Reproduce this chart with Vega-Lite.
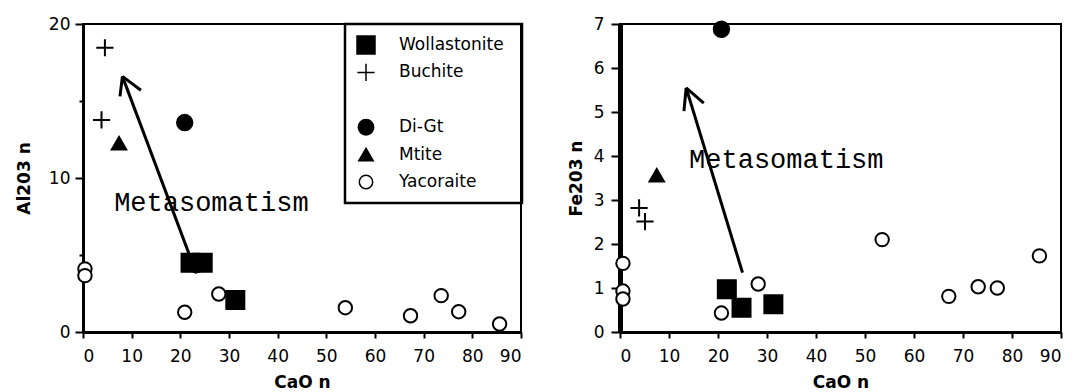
{
  "$schema": "https://vega.github.io/schema/vega-lite/v6.json",
  "background": "white",
  "padding": {"left": 14, "top": 14, "right": 0, "bottom": 0},
  "spacing": 41,
  "config": {
    "view": {"stroke": "black", "strokeWidth": 2},
    "axis": {
      "grid": false,
      "domainColor": "black",
      "tickColor": "black",
      "labelColor": "black",
      "titleColor": "black",
      "labelFont": "DejaVu Sans",
      "labelFontSize": 17,
      "titleFont": "DejaVu Sans",
      "titleFontSize": 17,
      "titleFontWeight": "bold",
      "tickWidth": 2,
      "domainWidth": 3
    },
    "legend": {
      "labelFont": "DejaVu Sans",
      "labelFontSize": 17,
      "labelColor": "black",
      "strokeColor": "black",
      "strokeWidth": 2.5,
      "padding": 11,
      "labelOffset": 23,
      "clipHeight": 20,
      "rowPadding": 7.4
    }
  },
  "resolve": {"legend": {"shape": "independent", "size": "independent", "fill": "independent"}},
  "datasets": {
    "al": [
      {"rock": "Wollastonite", "CaO": 22.1, "v": 4.5},
      {"rock": "Wollastonite", "CaO": 24.6, "v": 4.5},
      {"rock": "Wollastonite", "CaO": 31.3, "v": 2.08},
      {"rock": "Buchite", "CaO": 4.5, "v": 18.46},
      {"rock": "Buchite", "CaO": 3.8, "v": 13.77},
      {"rock": "Di-Gt", "CaO": 20.9, "v": 13.6},
      {"rock": "Mtite", "CaO": 7.4, "v": 12.25},
      {"rock": "Yacoraite", "CaO": 0.4, "v": 4.1},
      {"rock": "Yacoraite", "CaO": 0.4, "v": 3.66},
      {"rock": "Yacoraite", "CaO": 20.9, "v": 1.28},
      {"rock": "Yacoraite", "CaO": 27.9, "v": 2.47},
      {"rock": "Yacoraite", "CaO": 53.9, "v": 1.58},
      {"rock": "Yacoraite", "CaO": 67.3, "v": 1.06},
      {"rock": "Yacoraite", "CaO": 73.6, "v": 2.36},
      {"rock": "Yacoraite", "CaO": 77.2, "v": 1.32},
      {"rock": "Yacoraite", "CaO": 85.6, "v": 0.52}
    ],
    "fe": [
      {"rock": "Wollastonite", "CaO": 21.8, "v": 0.97},
      {"rock": "Wollastonite", "CaO": 24.8, "v": 0.55},
      {"rock": "Wollastonite", "CaO": 31.3, "v": 0.63},
      {"rock": "Buchite", "CaO": 3.9, "v": 2.82},
      {"rock": "Buchite", "CaO": 5.1, "v": 2.51},
      {"rock": "Di-Gt", "CaO": 20.7, "v": 6.88},
      {"rock": "Mtite", "CaO": 7.5, "v": 3.56},
      {"rock": "Yacoraite", "CaO": 0.6, "v": 1.56},
      {"rock": "Yacoraite", "CaO": 0.6, "v": 0.93},
      {"rock": "Yacoraite", "CaO": 0.6, "v": 0.75},
      {"rock": "Yacoraite", "CaO": 20.7, "v": 0.43},
      {"rock": "Yacoraite", "CaO": 28.2, "v": 1.09},
      {"rock": "Yacoraite", "CaO": 53.5, "v": 2.1},
      {"rock": "Yacoraite", "CaO": 67.1, "v": 0.81},
      {"rock": "Yacoraite", "CaO": 73.1, "v": 1.03},
      {"rock": "Yacoraite", "CaO": 77.0, "v": 1.0},
      {"rock": "Yacoraite", "CaO": 85.6, "v": 1.73}
    ],
    "seg": [
      {"panel": "Al", "CaO": 23.3, "v": 3.8, "CaO2": 8.1, "v2": 16.6},
      {"panel": "Al", "CaO": 8.1, "v": 16.6, "CaO2": 11.9, "v2": 15.7},
      {"panel": "Al", "CaO": 8.1, "v": 16.6, "CaO2": 7.6, "v2": 15.3},
      {"panel": "Fe", "CaO": 25.0, "v": 1.35, "CaO2": 13.5, "v2": 5.55},
      {"panel": "Fe", "CaO": 13.5, "v": 5.55, "CaO2": 17.1, "v2": 5.2},
      {"panel": "Fe", "CaO": 13.5, "v": 5.55, "CaO2": 13.05, "v2": 5.02}
    ],
    "notes": [
      {"panel": "Al", "label": "Metasomatism", "CaO": 6.4, "v": 8.4},
      {"panel": "Fe", "label": "Metasomatism", "CaO": 14.1, "v": 3.9}
    ]
  },
  "hconcat": [
    {
      "width": 438,
      "height": 308,
      "layer": [
        {
          "data": {"name": "al"},
          "mark": {"type": "point", "opacity": 1, "stroke": "black", "strokeWidth": 2},
          "encoding": {
            "x": {
              "field": "CaO", "type": "quantitative",
              "scale": {"domain": [0, 90], "nice": false},
              "axis": {
                "title": "CaO n",
                "values": [0, 5, 10, 15, 20, 25, 30, 35, 40, 45, 50, 55, 60, 65, 70, 75, 80, 85, 90],
                "labelExpr": "datum.value % 10 === 0 ? datum.label : ''",
                "tickSize": 6,
                "labelPadding": 10,
                "titlePadding": 10
              }
            },
            "y": {
              "field": "v", "type": "quantitative",
              "scale": {"domain": [0, 20], "nice": false},
              "axis": {
                "title": "Al203 n",
                "values": [0, 5, 10, 15, 20],
                "labelExpr": "datum.value % 10 === 0 ? datum.label : ''",
                "tickSize": {"condition": {"test": "datum.value % 10 === 0", "value": 8}, "value": 4},
                "labelPadding": 5,
                "titlePadding": 15
              }
            },
            "shape": {
              "field": "rock", "type": "nominal",
              "scale": {
                "domain": ["Wollastonite", "Buchite", " ", "Di-Gt", "Mtite", "Yacoraite"],
                "range": ["square", "M-1,0L1,0M0,-1L0,1", "M0,0", "circle", "triangle-up", "circle"]
              },
              "legend": {"orient": "none", "legendX": 262, "legendY": 0, "title": " ", "titleOrient": "right", "titlePadding": 7,
                "encode": {"symbols": {"update": {"stroke": {"value": "black"}, "strokeWidth": {"value": 2}}}}}
            },
            "size": {
              "field": "rock", "type": "nominal",
              "scale": {
                "domain": ["Wollastonite", "Buchite", " ", "Di-Gt", "Mtite", "Yacoraite"],
                "range": [324, 180, 0, 324, 450, 90]
              },
              "legend": {"orient": "none", "legendX": 262, "legendY": 0, "title": " ", "titleOrient": "right", "titlePadding": 7,
                "encode": {"symbols": {"update": {"stroke": {"value": "black"}, "strokeWidth": {"value": 2}}}}}
            },
            "fill": {
              "field": "rock", "type": "nominal",
              "scale": {
                "domain": ["Wollastonite", "Buchite", " ", "Di-Gt", "Mtite", "Yacoraite"],
                "range": ["black", "black", "transparent", "black", "black", "white"]
              },
              "legend": {"orient": "none", "legendX": 262, "legendY": 0, "title": " ", "titleOrient": "right", "titlePadding": 7,
                "encode": {"symbols": {"update": {"stroke": {"value": "black"}, "strokeWidth": {"value": 2}}}}}
            }
          }
        },
        {
          "data": {"name": "seg"},
          "transform": [{"filter": "datum.panel == 'Al'"}],
          "mark": {"type": "rule", "strokeWidth": 3, "color": "black"},
          "encoding": {
            "x": {"field": "CaO", "type": "quantitative", "scale": {"domain": [0, 90], "nice": false}},
            "y": {"field": "v", "type": "quantitative", "scale": {"domain": [0, 20], "nice": false}},
            "x2": {"field": "CaO2"},
            "y2": {"field": "v2"}
          }
        },
        {
          "data": {"name": "notes"},
          "transform": [{"filter": "datum.panel == 'Al'"}],
          "mark": {"type": "text", "font": "Liberation Mono", "fontSize": 27, "align": "left", "baseline": "middle", "color": "black"},
          "encoding": {
            "x": {"field": "CaO", "type": "quantitative", "scale": {"domain": [0, 90], "nice": false}},
            "y": {"field": "v", "type": "quantitative", "scale": {"domain": [0, 20], "nice": false}},
            "text": {"field": "label"}
          }
        }
      ]
    },
    {
      "width": 441,
      "height": 308,
      "layer": [
        {
          "data": {"name": "fe"},
          "mark": {"type": "point", "opacity": 1, "stroke": "black", "strokeWidth": 2},
          "encoding": {
            "x": {
              "field": "CaO", "type": "quantitative",
              "scale": {"domain": [0, 90], "nice": false},
              "axis": {
                "title": "CaO n",
                "values": [0, 5, 10, 15, 20, 25, 30, 35, 40, 45, 50, 55, 60, 65, 70, 75, 80, 85, 90],
                "labelExpr": "datum.value % 10 === 0 ? datum.label : ''",
                "tickSize": 6,
                "labelPadding": 10,
                "titlePadding": 10
              }
            },
            "y": {
              "field": "v", "type": "quantitative",
              "scale": {"domain": [0, 7], "nice": false},
              "axis": {
                "title": "Fe203 n",
                "values": [0, 0.5, 1, 1.5, 2, 2.5, 3, 3.5, 4, 4.5, 5, 5.5, 6, 6.5, 7],
                "labelExpr": "datum.value % 1 === 0 ? datum.label : ''",
                "tickSize": {"condition": {"test": "datum.value % 1 === 0", "value": 9}, "value": 4},
                "labelPadding": 7,
                "titlePadding": 8,
                "domainWidth": 5
              }
            },
            "shape": {
              "field": "rock", "type": "nominal",
              "scale": {
                "domain": ["Wollastonite", "Buchite", " ", "Di-Gt", "Mtite", "Yacoraite"],
                "range": ["square", "M-1,0L1,0M0,-1L0,1", "M0,0", "circle", "triangle-up", "circle"]
              },
              "legend": null
            },
            "size": {
              "field": "rock", "type": "nominal",
              "scale": {
                "domain": ["Wollastonite", "Buchite", " ", "Di-Gt", "Mtite", "Yacoraite"],
                "range": [324, 180, 0, 324, 450, 90]
              },
              "legend": null
            },
            "fill": {
              "field": "rock", "type": "nominal",
              "scale": {
                "domain": ["Wollastonite", "Buchite", " ", "Di-Gt", "Mtite", "Yacoraite"],
                "range": ["black", "black", "transparent", "black", "black", "white"]
              },
              "legend": null
            }
          }
        },
        {
          "data": {"name": "seg"},
          "transform": [{"filter": "datum.panel == 'Fe'"}],
          "mark": {"type": "rule", "strokeWidth": 3, "color": "black"},
          "encoding": {
            "x": {"field": "CaO", "type": "quantitative", "scale": {"domain": [0, 90], "nice": false}},
            "y": {"field": "v", "type": "quantitative", "scale": {"domain": [0, 7], "nice": false}},
            "x2": {"field": "CaO2"},
            "y2": {"field": "v2"}
          }
        },
        {
          "data": {"name": "notes"},
          "transform": [{"filter": "datum.panel == 'Fe'"}],
          "mark": {"type": "text", "font": "Liberation Mono", "fontSize": 27, "align": "left", "baseline": "middle", "color": "black"},
          "encoding": {
            "x": {"field": "CaO", "type": "quantitative", "scale": {"domain": [0, 90], "nice": false}},
            "y": {"field": "v", "type": "quantitative", "scale": {"domain": [0, 7], "nice": false}},
            "text": {"field": "label"}
          }
        }
      ]
    }
  ]
}
